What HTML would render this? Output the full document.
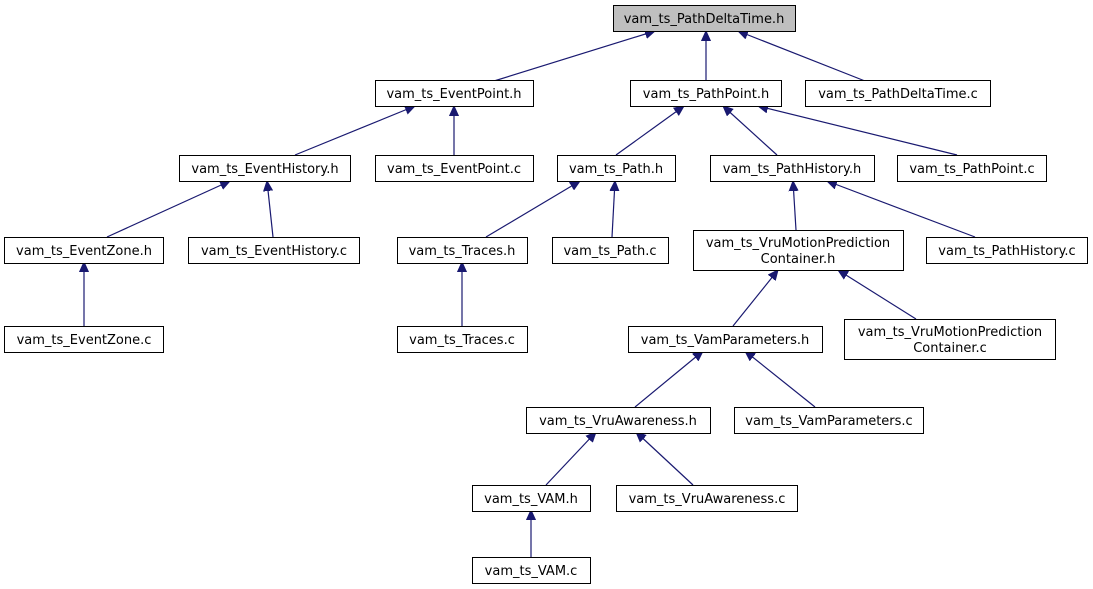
<!DOCTYPE html>
<html><head><meta charset="utf-8"><style>
body{margin:0;background:#fff;}
svg{display:block;}
text{font-family:"DejaVu Sans","Liberation Sans",sans-serif;font-size:13px;fill:#000;}
rect{fill:#fff;stroke:#000;stroke-width:1;}
line{stroke:#191970;stroke-width:1.2;}
</style></head><body>
<svg width="1093" height="589" viewBox="0 0 1093 589" xmlns="http://www.w3.org/2000/svg">
<defs><marker id="a" viewBox="0 0 10 10" refX="10" refY="5" markerWidth="10" markerHeight="10" markerUnits="userSpaceOnUse" orient="auto"><path d="M0,0.5 L10,5 L0,9.5 z" fill="#191970" stroke="#191970"/></marker></defs>
<g>
<line x1="494" y1="81" x2="655" y2="31" marker-end="url(#a)"/>
<line x1="706" y1="81" x2="706" y2="31" marker-end="url(#a)"/>
<line x1="865" y1="81" x2="738" y2="31" marker-end="url(#a)"/>
<line x1="295" y1="155" x2="415" y2="106" marker-end="url(#a)"/>
<line x1="454" y1="155" x2="454" y2="106" marker-end="url(#a)"/>
<line x1="616" y1="155" x2="684" y2="106" marker-end="url(#a)"/>
<line x1="777" y1="155" x2="723" y2="106" marker-end="url(#a)"/>
<line x1="957" y1="155" x2="758" y2="106" marker-end="url(#a)"/>
<line x1="107" y1="237" x2="230" y2="181" marker-end="url(#a)"/>
<line x1="273" y1="237" x2="267" y2="181" marker-end="url(#a)"/>
<line x1="486" y1="237" x2="580" y2="181" marker-end="url(#a)"/>
<line x1="612" y1="237" x2="615" y2="181" marker-end="url(#a)"/>
<line x1="796" y1="230" x2="793" y2="181" marker-end="url(#a)"/>
<line x1="975" y1="237" x2="827" y2="181" marker-end="url(#a)"/>
<line x1="84" y1="326" x2="84" y2="262" marker-end="url(#a)"/>
<line x1="462" y1="326" x2="462" y2="262" marker-end="url(#a)"/>
<line x1="733" y1="326" x2="778" y2="270" marker-end="url(#a)"/>
<line x1="916" y1="319" x2="838" y2="270" marker-end="url(#a)"/>
<line x1="635" y1="407" x2="703" y2="351" marker-end="url(#a)"/>
<line x1="815" y1="407" x2="745" y2="351" marker-end="url(#a)"/>
<line x1="546" y1="485" x2="596" y2="432" marker-end="url(#a)"/>
<line x1="693" y1="485" x2="636" y2="432" marker-end="url(#a)"/>
<line x1="531" y1="557" x2="531" y2="510" marker-end="url(#a)"/>
</g>
<g text-anchor="middle">
<rect x="613.5" y="5.5" width="182" height="26" style="fill:#bfbfbf"/><text x="704" y="23">vam_ts_PathDeltaTime.h</text>
<rect x="375.5" y="80.5" width="158" height="26"/><text x="454" y="98">vam_ts_EventPoint.h</text>
<rect x="630.5" y="80.5" width="151" height="26"/><text x="706" y="98">vam_ts_PathPoint.h</text>
<rect x="805.5" y="80.5" width="185" height="26"/><text x="898" y="98">vam_ts_PathDeltaTime.c</text>
<rect x="179.5" y="155.5" width="171" height="26"/><text x="265" y="173">vam_ts_EventHistory.h</text>
<rect x="375.5" y="155.5" width="158" height="26"/><text x="454" y="173">vam_ts_EventPoint.c</text>
<rect x="557.5" y="155.5" width="118" height="26"/><text x="616" y="173">vam_ts_Path.h</text>
<rect x="710.5" y="155.5" width="164" height="26"/><text x="792" y="173">vam_ts_PathHistory.h</text>
<rect x="897.5" y="155.5" width="149" height="26"/><text x="972" y="173">vam_ts_PathPoint.c</text>
<rect x="4.5" y="237.5" width="159" height="26"/><text x="84" y="255">vam_ts_EventZone.h</text>
<rect x="188.5" y="237.5" width="171" height="26"/><text x="274" y="255">vam_ts_EventHistory.c</text>
<rect x="397.5" y="237.5" width="130" height="26"/><text x="462" y="255">vam_ts_Traces.h</text>
<rect x="552.5" y="237.5" width="116" height="26"/><text x="610" y="255">vam_ts_Path.c</text>
<rect x="693.5" y="230.5" width="210" height="40"/><text x="798" y="247">vam_ts_VruMotionPrediction</text><text x="798" y="263">Container.h</text>
<rect x="926.5" y="237.5" width="161" height="26"/><text x="1007" y="255">vam_ts_PathHistory.c</text>
<rect x="4.5" y="326.5" width="159" height="26"/><text x="84" y="344">vam_ts_EventZone.c</text>
<rect x="397.5" y="326.5" width="130" height="26"/><text x="462" y="344">vam_ts_Traces.c</text>
<rect x="628.5" y="326.5" width="194" height="26"/><text x="725" y="344">vam_ts_VamParameters.h</text>
<rect x="844.5" y="319.5" width="211" height="40"/><text x="950" y="336">vam_ts_VruMotionPrediction</text><text x="950" y="352">Container.c</text>
<rect x="526.5" y="407.5" width="184" height="26"/><text x="618" y="425">vam_ts_VruAwareness.h</text>
<rect x="734.5" y="407.5" width="189" height="26"/><text x="829" y="425">vam_ts_VamParameters.c</text>
<rect x="472.5" y="485.5" width="118" height="26"/><text x="531" y="503">vam_ts_VAM.h</text>
<rect x="616.5" y="485.5" width="181" height="26"/><text x="707" y="503">vam_ts_VruAwareness.c</text>
<rect x="472.5" y="557.5" width="118" height="26"/><text x="531" y="575">vam_ts_VAM.c</text>
</g>
</svg>
</body></html>
